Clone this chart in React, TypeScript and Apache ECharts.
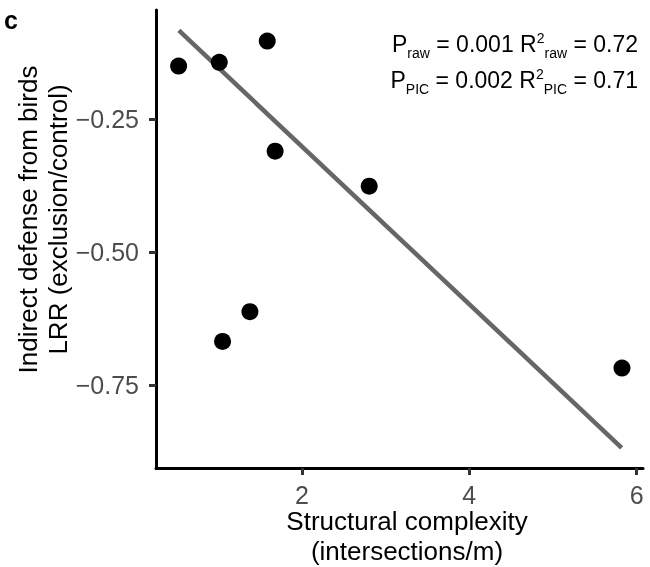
import React, { useEffect, useRef } from "react";
import * as echarts from "echarts";

// Data
const complexity = [0.527, 1.013, 1.586, 1.052, 1.379, 2.804, 5.824, 1.68];
const defense = [-0.15, -0.143, -0.103, -0.668, -0.612, -0.376, -0.718, -0.31];
const fitX = [0.53, 5.82];
const fitY = [-0.083, -0.868];
const xTicks = [2, 4, 6];
const yTicks = [-0.75, -0.5, -0.25];
const xTitle = ["Structural complexity", "(intersections/m)"];
const yTitle = ["Indirect defense from birds", "LRR (exclusion/control)"];
const statsLines = [
  { sub: "raw", p: "0.001", r2: "0.72" },
  { sub: "PIC", p: "0.002", r2: "0.71" },
];

const FONT = '"Liberation Sans", Arial, Helvetica, sans-serif';

export default function App() {
  const ref = useRef<HTMLDivElement>(null);
  useEffect(() => {
    if (!ref.current) return;
    const chart = echarts.init(ref.current, null, { renderer: "svg" });
    const fmtY = (v: number) => (v < 0 ? "\u2212" : "") + Math.abs(v).toFixed(2);
    const statsText = statsLines
      .map(
        (l) =>
          `{a|P}{s|${l.sub}}{a| = ${l.p} R}{u|2}{s|${l.sub}}{a| = ${l.r2}}`
      )
      .join("\n");
    chart.setOption({
      animation: false,
      grid: { left: 156, right: 7, top: 10, bottom: 99 },
      xAxis: {
        type: "value",
        min: 0.257,
        max: 6.075,
        splitLine: { show: false },
        axisLine: { show: true, lineStyle: { color: "#000", width: 3 } },
        axisTick: {
          show: true,
          length: 7,
          customValues: xTicks,
          lineStyle: { color: "#333", width: 3 },
        },
        axisLabel: {
          customValues: xTicks,
          fontSize: 25,
          fontFamily: FONT,
          color: "#4d4d4d",
          margin: 14,
        },
      },
      yAxis: {
        type: "value",
        min: -0.906,
        max: -0.0445,
        splitLine: { show: false },
        axisLine: { show: true, lineStyle: { color: "#000", width: 3 } },
        axisTick: {
          show: true,
          length: 7,
          customValues: yTicks,
          lineStyle: { color: "#333", width: 3 },
        },
        axisLabel: {
          customValues: yTicks,
          fontSize: 25,
          fontFamily: FONT,
          color: "#4d4d4d",
          margin: 17,
          formatter: fmtY,
        },
      },
      series: [
        {
          type: "line",
          data: fitX.map((x, i) => [x, fitY[i]]),
          symbol: "none",
          lineStyle: { color: "#666666", width: 4.5, cap: "butt" },
          z: 1,
        },
        {
          type: "scatter",
          data: complexity.map((x, i) => [x, defense[i]]),
          symbolSize: 17,
          itemStyle: { color: "#000", opacity: 1 },
          z: 3,
        },
      ],
      graphic: [
        {
          type: "text",
          x: 4,
          y: 20,
          style: {
            text: "c",
            font: `bold 25px ${FONT}`,
            fill: "#000",
            align: "left",
            verticalAlign: "middle",
          },
        },
        {
          type: "text",
          x: 638,
          y: 25.5,
          style: {
            text: statsText,
            align: "right",
            verticalAlign: "top",
            fill: "#000",
            fontFamily: FONT,
            fontSize: 23,
            rich: {
              a: { fontSize: 23, fontFamily: FONT, lineHeight: 36, fill: "#000" },
              s: {
                fontSize: 14,
                fontFamily: FONT,
                verticalAlign: "bottom",
                padding: [0, 0, 2, 0],
                fill: "#000",
              },
              u: {
                fontSize: 14,
                fontFamily: FONT,
                verticalAlign: "top",
                padding: [5, 0, 0, 0],
                fill: "#000",
              },
            },
          },
        },
        ...xTitle.map((t, i) => ({
          type: "text",
          x: 407,
          y: 521 + i * 30,
          style: {
            text: t,
            fontSize: 26,
            fontFamily: FONT,
            fill: "#000",
            align: "center",
            verticalAlign: "middle",
          },
        })),
        ...yTitle.map((t, i) => ({
          type: "text",
          x: 27.5 + i * 30,
          y: 219.5,
          rotation: Math.PI / 2,
          style: {
            text: t,
            fontSize: 26,
            fontFamily: FONT,
            fill: "#000",
            align: "center",
            verticalAlign: "middle",
          },
        })),
      ],
    });
    return () => chart.dispose();
  }, []);
  return (
    <div
      ref={ref}
      style={{ position: "fixed", left: 0, top: 0, width: 650, height: 567 }}
    />
  );
}
